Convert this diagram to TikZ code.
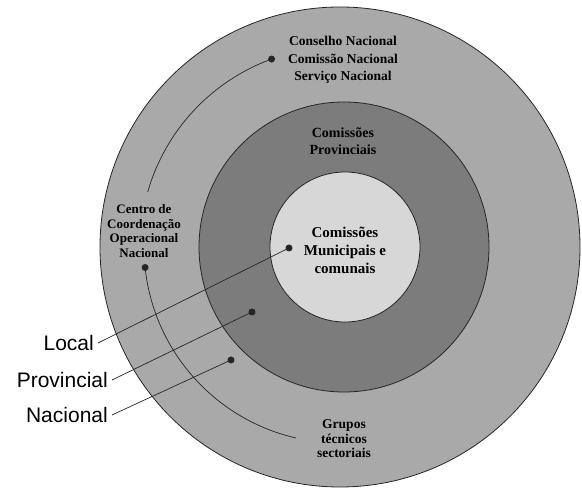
\documentclass[tikz,border=0pt]{standalone}
\usepackage{fontspec}
\setmainfont{Liberation Serif}
\setsansfont{Liberation Sans}
\usetikzlibrary{calc}
\definecolor{ringouter}{HTML}{A9A9A9}
\definecolor{ringmid}{HTML}{7C7C7C}
\definecolor{ringinner}{HTML}{D7D7D7}
\tikzset{
  ring/.style={draw=black!85, line width=0.8pt},
  dotmark/.style={circle, fill=black!85, inner sep=0pt, minimum size=7pt},
  lead/.style={draw=black!85, line width=0.7pt},
  serifbold/.style={font=\bfseries\fontsize{13.5}{17.5}\selectfont, align=center, inner sep=0pt},
  levellabel/.style={font=\sffamily\fontsize{21}{24}\selectfont, anchor=east, inner sep=0pt}
}
\begin{document}
\begin{tikzpicture}[x=1pt,y=1pt]
\useasboundingbox (0,0) rectangle (582,488);
\coordinate (c) at (340,241);
% rings
\fill[ringouter] (c) circle[radius=240];
\draw[ring] (c) circle[radius=240];
\fill[ringmid] (344,241) circle[radius=145];
\draw[ring] (344,241) circle[radius=145];
\fill[ringinner] (345,241) circle[radius=75];
\draw[ring] (345,241) circle[radius=75];
% dots
\node[dotmark] (dcons) at ($(c)+(110:200)$) {};
\node[dotmark] (dcentro) at ($(c)+(186:196)$) {};
\node[dotmark] (dlocal) at (289,240) {};
\node[dotmark] (dprov) at (252,176) {};
\node[dotmark] (dnac) at (231,128) {};
% arcs
\draw[lead] (dcons.center) arc[start angle=110, end angle=164, radius=200] coordinate (arcAend);
\draw[lead] (dcentro.center) arc[start angle=186, end angle=257, radius=196] coordinate (arcBend);
% texts
\node[serifbold] (tcons) at (343,428) {Conselho Nacional\\Comissão Nacional\\Serviço Nacional};
\node[serifbold, font=\bfseries\fontsize{14}{17.5}\selectfont] (tprov) at (343,347) {Comissões\\Provinciais};
\node[serifbold, font=\bfseries\fontsize{15}{18}\selectfont] (tmun) at (345,238) {Comissões\\Municipais e\\comunais};
\node[serifbold, font=\bfseries\fontsize{13}{14.5}\selectfont] (tcentro) at (144,257) {Centro de\\Coordenação\\Operacional\\Nacional};
\node[serifbold, font=\bfseries\fontsize{13.5}{14.5}\selectfont] (tgrupos) at (344,49) {Grupos\\técnicos\\sectoriais};
% level labels
\node[levellabel] (llocal) at (94,145) {Local};
\node[levellabel] (lprov) at (108,108) {Provincial};
\node[levellabel] (lnac) at (108,73) {Nacional};
\draw[lead] ([xshift=4pt]llocal.east) -- (dlocal.center);
\draw[lead] ([xshift=4pt]lprov.east) -- (dprov.center);
\draw[lead] ([xshift=4pt]lnac.east) -- (dnac.center);
\end{tikzpicture}
\end{document}
